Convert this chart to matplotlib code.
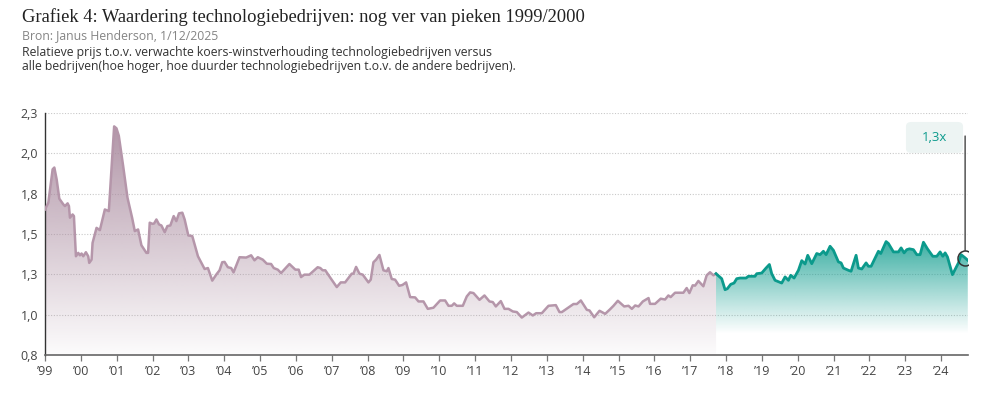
import numpy as np
import matplotlib
matplotlib.use("Agg")
import matplotlib.pyplot as plt
from matplotlib.colors import to_rgb
from matplotlib.patches import FancyBboxPatch

# ---------------- data ----------------
years_hist = [
    1999.000, 1999.093, 1999.213, 1999.260, 1999.325, 1999.399, 1999.510, 1999.557, 1999.631, 1999.668,
    1999.696, 1999.770, 1999.807, 1999.863, 1999.928, 1999.974, 2000.020, 2000.067, 2000.141, 2000.206,
    2000.234, 2000.299, 2000.327, 2000.438, 2000.531, 2000.670, 2000.781, 2000.929, 2000.994, 2001.059,
    2001.180, 2001.301, 2001.430, 2001.505, 2001.597, 2001.690, 2001.829, 2001.876, 2001.922, 2001.996,
    2002.043, 2002.108, 2002.182, 2002.247, 2002.340, 2002.414, 2002.497, 2002.590, 2002.664, 2002.738,
    2002.831, 2002.896, 2002.998, 2003.109, 2003.267, 2003.453, 2003.545, 2003.666, 2003.777, 2003.870,
    2003.944, 2004.009, 2004.102, 2004.195, 2004.260, 2004.427, 2004.612, 2004.751, 2004.844, 2004.937,
    2005.076, 2005.187, 2005.308, 2005.382, 2005.494, 2005.586, 2005.818, 2005.985, 2006.078, 2006.143,
    2006.236, 2006.375, 2006.607, 2006.681, 2006.746, 2006.820, 2006.953, 2007.140, 2007.251, 2007.372,
    2007.558, 2007.605, 2007.679, 2007.772, 2007.865, 2008.023, 2008.088, 2008.163, 2008.237, 2008.330,
    2008.442, 2008.535, 2008.581, 2008.674, 2008.767, 2008.879, 2008.972, 2009.074, 2009.186, 2009.326,
    2009.419, 2009.558, 2009.679, 2009.837, 2010.023, 2010.163, 2010.256, 2010.349, 2010.414, 2010.488,
    2010.656, 2010.767, 2010.860, 2010.953, 2011.121, 2011.260, 2011.400, 2011.493, 2011.577, 2011.716,
    2011.819, 2011.930, 2012.051, 2012.163, 2012.302, 2012.488, 2012.609, 2012.702, 2012.860, 2013.047,
    2013.251, 2013.353, 2013.419, 2013.744, 2013.837, 2013.949, 2014.116, 2014.191, 2014.321, 2014.470,
    2014.628, 2014.767, 2014.860, 2014.981, 2015.158, 2015.279, 2015.372, 2015.465, 2015.558, 2015.679,
    2015.837, 2015.879, 2016.019, 2016.177, 2016.298, 2016.391, 2016.456, 2016.577, 2016.809, 2016.902,
    2016.977, 2017.070, 2017.135, 2017.228, 2017.367, 2017.460, 2017.553, 2017.647, 2017.721,
]
values_hist = [
    1.702, 1.744, 1.951, 1.962, 1.889, 1.769, 1.734, 1.723, 1.740, 1.723,
    1.651, 1.671, 1.661, 1.412, 1.433, 1.418, 1.429, 1.412, 1.437, 1.412,
    1.371, 1.391, 1.495, 1.588, 1.574, 1.702, 1.692, 2.217, 2.205, 2.159,
    1.972, 1.775, 1.651, 1.568, 1.578, 1.480, 1.433, 1.433, 1.620, 1.613,
    1.615, 1.640, 1.609, 1.603, 1.561, 1.599, 1.603, 1.661, 1.630, 1.678,
    1.682, 1.640, 1.541, 1.537, 1.412, 1.333, 1.339, 1.261, 1.298, 1.325,
    1.375, 1.377, 1.344, 1.339, 1.312, 1.406, 1.404, 1.418, 1.387, 1.406,
    1.391, 1.366, 1.364, 1.339, 1.329, 1.308, 1.364, 1.329, 1.329, 1.283,
    1.298, 1.298, 1.344, 1.339, 1.325, 1.325, 1.281, 1.221, 1.250, 1.250,
    1.304, 1.304, 1.346, 1.304, 1.298, 1.250, 1.267, 1.375, 1.391, 1.420,
    1.325, 1.319, 1.339, 1.271, 1.267, 1.229, 1.234, 1.250, 1.159, 1.157,
    1.132, 1.132, 1.086, 1.093, 1.138, 1.138, 1.105, 1.105, 1.120, 1.105,
    1.105, 1.163, 1.188, 1.184, 1.142, 1.169, 1.132, 1.128, 1.101, 1.134,
    1.086, 1.086, 1.070, 1.066, 1.032, 1.063, 1.045, 1.059, 1.059, 1.105,
    1.109, 1.066, 1.066, 1.116, 1.116, 1.138, 1.080, 1.076, 1.034, 1.074,
    1.055, 1.084, 1.105, 1.136, 1.101, 1.105, 1.086, 1.107, 1.101, 1.132,
    1.153, 1.117, 1.117, 1.149, 1.144, 1.169, 1.159, 1.186, 1.186, 1.215,
    1.184, 1.232, 1.230, 1.259, 1.226, 1.294, 1.313, 1.294, 1.304,
]
years_recent = [
    2017.721, 2017.879, 2017.972, 2018.037, 2018.130, 2018.223, 2018.298, 2018.391, 2018.558, 2018.623,
    2018.809, 2018.856, 2018.995, 2019.116, 2019.209, 2019.274, 2019.367, 2019.553, 2019.647, 2019.740,
    2019.805, 2019.898, 2020.019, 2020.112, 2020.205, 2020.279, 2020.391, 2020.530, 2020.623, 2020.716,
    2020.791, 2020.902, 2020.995, 2021.135, 2021.209, 2021.274, 2021.414, 2021.488, 2021.628, 2021.693,
    2021.786, 2021.907, 2021.972, 2022.047, 2022.251, 2022.316, 2022.465, 2022.530, 2022.670, 2022.809,
    2022.884, 2022.967, 2023.042, 2023.116, 2023.228, 2023.321, 2023.414, 2023.507, 2023.619, 2023.767,
    2023.879, 2023.972, 2024.047, 2024.112, 2024.177, 2024.316, 2024.484, 2024.558, 2024.670, 2024.744,
]
values_recent = [
    1.304, 1.273, 1.205, 1.211, 1.238, 1.246, 1.273, 1.277, 1.277, 1.288,
    1.288, 1.304, 1.308, 1.339, 1.361, 1.304, 1.263, 1.246, 1.284, 1.263,
    1.294, 1.277, 1.325, 1.385, 1.364, 1.418, 1.366, 1.429, 1.422, 1.443,
    1.422, 1.474, 1.449, 1.377, 1.371, 1.339, 1.325, 1.319, 1.418, 1.339,
    1.333, 1.371, 1.350, 1.350, 1.443, 1.429, 1.503, 1.491, 1.439, 1.439,
    1.464, 1.433, 1.453, 1.458, 1.453, 1.422, 1.422, 1.499, 1.458, 1.412,
    1.412, 1.439, 1.412, 1.433, 1.408, 1.298, 1.371, 1.422, 1.402, 1.387,
]
x_tick_years = list(range(1999, 2025))
x_tick_labels = ["\u2019" + str(y)[2:] for y in x_tick_years]
y_ticks = [0.8, 1.05, 1.3, 1.55, 1.8, 2.05, 2.3]
y_tick_labels = ["0,8", "1,0", "1,3", "1,5", "1,8", "2,0", "2,3"]
marker_index = 68          # highlighted point
annotation_text = "1,3x"

title = "Grafiek 4: Waardering technologiebedrijven: nog ver van pieken 1999/2000"
source = "Bron: Janus Henderson, 1/12/2025"
description = ("Relatieve prijs t.o.v. verwachte koers-winstverhouding technologiebedrijven versus\n"
               "alle bedrijven(hoe hoger, hoe duurder technologiebedrijven t.o.v. de andere bedrijven).")

# ---------------- styling ----------------
PURPLE = "#b596aa"
PURPLE_FILL = "#a98a9e"
TEAL = "#0b9a8c"
TEAL_FILL = "#129e90"
SANS = ["Open Sans", "DejaVu Sans"]

W, H = 987, 395
fig = plt.figure(figsize=(W / 100, H / 100), dpi=100)
ax = fig.add_axes([45 / W, 40 / H, 923 / W, 242 / H])

YMIN, YMAX = 0.8, 2.3
XMIN, XMAX = 1999.0, 2024.75


def gradient_fill(ax, x, y, color, ystops, astops):
    poly = ax.fill_between(x, y, YMIN, facecolor="none", edgecolor="none")
    path = poly.get_paths()[0]
    n = 300
    ys = np.linspace(YMIN, YMAX, n)
    alpha = np.interp(ys, ystops, astops)
    img = np.zeros((n, 1, 4))
    img[:, :, :3] = to_rgb(color)
    img[:, 0, 3] = alpha
    im = ax.imshow(img, extent=[min(x), max(x), YMIN, YMAX], origin="lower",
                   aspect="auto", zorder=1, interpolation="bilinear")
    im.set_clip_path(path, transform=ax.transData)


gradient_fill(ax, years_hist, values_hist, PURPLE_FILL, [0.8, 2.3], [0.03, 0.95])
gradient_fill(ax, years_recent, values_recent, TEAL_FILL, [0.93, 1.5], [0.0, 0.82])

ax.plot(years_hist, values_hist, color=PURPLE, lw=1.8, zorder=3, solid_joinstyle="round")
ax.plot(years_recent, values_recent, color=TEAL, lw=2.0, zorder=3, solid_joinstyle="round")

# highlighted point + annotation
mx, my = years_recent[marker_index], values_recent[marker_index]
ax.plot([mx], [my], marker="o", ms=10.8, mfc="none", mec="#333333", mew=1.1, zorder=5)
ax.annotate("", xy=(mx, my), xytext=(mx, 2.157),
            arrowprops=dict(arrowstyle="-", color="#555555", lw=1.1, shrinkA=0, shrinkB=5.4),
            zorder=4, annotation_clip=False)
box = FancyBboxPatch((0.9328, 0.835), 0.0618, 0.128, transform=ax.transAxes,
                     boxstyle="round,pad=0,rounding_size=0.006",
                     facecolor="#edf4f3", edgecolor="none", clip_on=False, zorder=4,
                     mutation_aspect=3)
ax.add_patch(box)
ax.text(0.9637, 0.899, annotation_text, transform=ax.transAxes, ha="center", va="center",
        color=TEAL, fontsize=9.5, family=SANS, zorder=6)

# axes
ax.set_xlim(XMIN, XMAX)
ax.set_ylim(YMIN, YMAX)
ax.set_yticks(y_ticks)
ax.set_yticklabels(y_tick_labels, family=SANS, fontsize=9, color="#444444")
ax.set_xticks(x_tick_years)
ax.set_xticklabels(x_tick_labels, family=SANS, fontsize=9, color="#444444")
ax.tick_params(axis="y", length=0, pad=5)
ax.tick_params(axis="x", length=4, width=0.9, color="#777777", pad=3)
for yv in y_ticks[1:]:
    ax.axhline(yv, color="#c9c9c9", lw=0.8, ls=(0, (1, 1.5)), zorder=0.5)
for s in ["top", "right"]:
    ax.spines[s].set_visible(False)
ax.spines["left"].set_color("#333333")
ax.spines["left"].set_linewidth(1.0)
ax.spines["bottom"].set_color("#666666")
ax.spines["bottom"].set_linewidth(1.2)
ax.set_facecolor("none")

# texts
fig.text(22 / W, 1 - 22 / H, title, family=["Liberation Serif", "DejaVu Serif"],
         fontsize=13.3, color="#222222", va="baseline", ha="left")
fig.text(22 / W, 1 - 39 / H, source, family=SANS, fontsize=8.8, color="#858585",
         va="baseline", ha="left")
fig.text(22 / W, 1 - 70 / H, description, family=SANS, fontsize=8.8, color="#333333",
         va="baseline", ha="left", linespacing=1.12)

fig.savefig("out.png", dpi=100)
